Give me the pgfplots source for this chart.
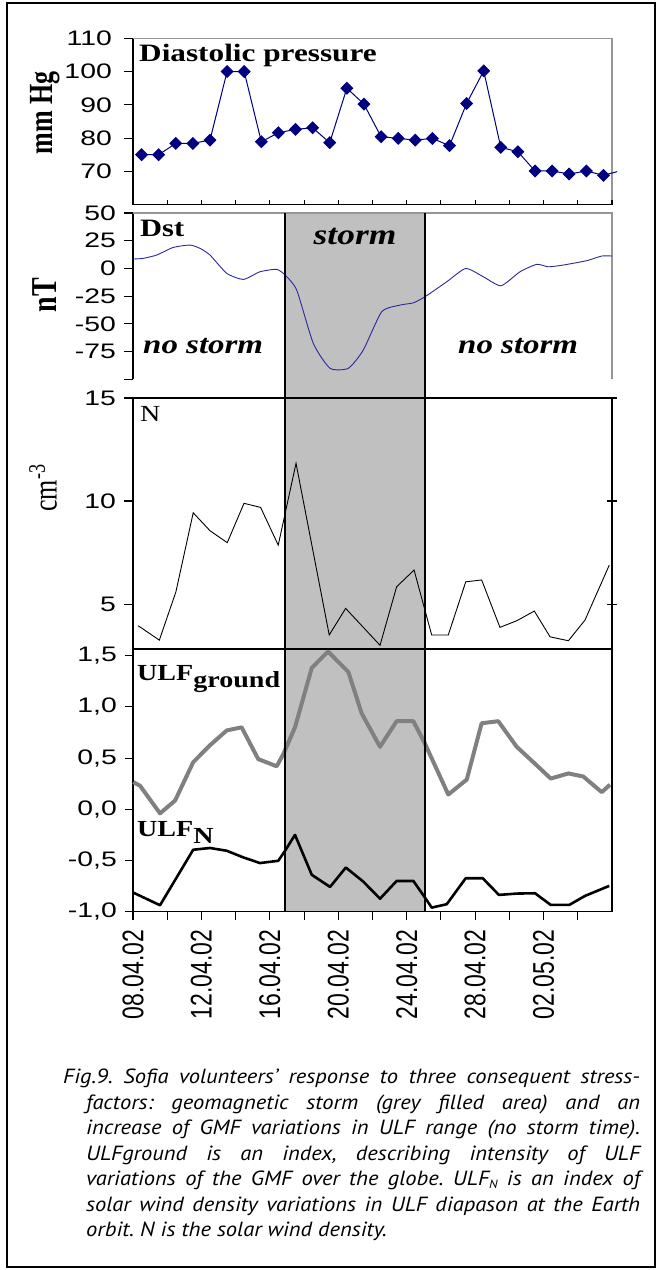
\documentclass[border=0pt]{standalone}
\usepackage{fontspec}
\usepackage{graphicx}
\usepackage{pgfplots}
\pgfplotsset{compat=1.18}
\setmainfont{Liberation Serif}
\newfontfamily\arial{Liberation Sans}
\newfontfamily\capfont{PT Sans}
\newcommand\fs[1]{\fontsize{#1}{#1}\selectfont}
\newcommand\wx[1]{\scalebox{1.22}[1]{#1}}
\newcommand\wt[1]{\scalebox{1.35}[1]{#1}}
\newcommand\wy[1]{\scalebox{1}[1.3]{#1}}
\newcommand\capline[2]{\scalebox{1.1}[1]{\makebox[#1][s]{#2}}}
\definecolor{navy}{RGB}{0,0,128}
\definecolor{dstblue}{RGB}{40,40,160}
\definecolor{stormgray}{RGB}{192,192,192}
\definecolor{ulfgray}{RGB}{128,128,128}
\definecolor{framegray}{RGB}{150,150,150}
\pgfplotsset{
  base/.style={scale only axis, width=479pt, xmin=0, xmax=28, clip=false, anchor=south west,
    axis line style={line width=1.1pt, black}, tick style={line width=1.1pt, black},
    yticklabel style={font=\arial\fs{21}, anchor=east, inner sep=0pt},
    yticklabel shift=8pt},
}
\frenchspacing
\begin{document}
\begin{tikzpicture}[x=1pt,y=1pt]
\useasboundingbox (0,0) rectangle (658,1270);
\draw[line width=1.6pt] (7,3) rectangle (655,1267);

% storm background
\begin{axis}[scale only axis, width=479pt, height=698.7pt, at={(133pt,358.3pt)}, anchor=south west,
  xmin=0, xmax=28, ymin=0, ymax=1, hide axis]
\addplot[fill=stormgray, draw=none] coordinates {(8.885,1) (17.07,1)} \closedcycle;
\end{axis}

% Panel 1: diastolic pressure
\begin{axis}[base, at={(133pt,1065.4pt)}, height=166.3pt, ymin=60, ymax=110,
  axis x line=none, axis y line*=left, ytick={70,80,90,100,110},
  yticklabels={{\wt{70}},{\wt{80}},{\wt{90}},{\wt{100}},{\wt{110}}},
  yticklabel shift=12pt,
  tick align=outside, major tick length=9pt]
\draw[framegray, line width=1.1pt] (rel axis cs:0,1) -- (rel axis cs:1,1) -- (rel axis cs:1,0);
\addplot[navy, line width=1pt] coordinates {(27.5,68.8) (28.3,69.9)};
\addplot[navy, line width=1pt, mark=square*, mark size=4.1pt, mark options={fill=navy, draw=navy, rotate=45}] coordinates {
(0.5,75)(1.5,75)(2.5,78.4)(3.5,78.4)(4.5,79.4)(5.5,100)(6.5,100)(7.5,78.9)(8.5,81.6)(9.5,82.6)
(10.5,83.1)(11.5,78.6)(12.5,95)(13.5,90.2)(14.5,80.4)(15.5,79.9)(16.5,79.4)(17.5,79.9)(18.5,77.7)
(19.5,90.4)(20.5,100.2)(21.5,77.2)(22.5,75.9)(23.5,70.1)(24.5,70.1)(25.5,69.2)(26.5,70.1)(27.5,68.8)};
\end{axis}
\begin{axis}[base, at={(133pt,1065.4pt)}, height=166.3pt, ymin=60, ymax=110,
  axis y line=none, axis x line*=bottom, xtick={0,2,...,28}, xticklabels={},
  tick align=inside, major tick length=5pt]
\end{axis}

% Panel 2: Dst
\begin{axis}[base, at={(133pt,890.6pt)}, height=166.4pt, ymin=-100, ymax=50,
  axis x line=none, axis y line*=left, ytick={-100,-75,-50,-25,0,25,50},
  yticklabels={{},{\wt{-75}},{\wt{-50}},{\wt{-25}},{\wt{0}},{\wt{25}},{\wt{50}}},
  tick align=outside, major tick length=9pt]
\draw[framegray, line width=1.1pt] (rel axis cs:0,1) -- (rel axis cs:1,1) -- (rel axis cs:1,0);
\addplot[dstblue, line width=0.9pt, smooth, tension=0.35] coordinates {
(0.02,8.5)(0.6,9.1)(1.39,12.1)(2.36,19)(3.33,21.1)(3.92,18.1)(4.5,12.1)(5.48,-4.4)(6.45,-9.9)
(7.42,-3)(8.4,-0.8)(8.89,-6)(9.57,-19.5)(10.54,-67.6)(11.52,-90)(12.59,-90)(13.46,-73.6)
(14.54,-39)(15.61,-33)(16.39,-31)(17.07,-25.5)(18.34,-12)(19.45,0)(20.48,-7.5)(21.51,-15.6)
(22.62,-3)(23.6,3.7)(24.28,1.5)(25.16,3.1)(26.52,7)(27.4,11.2)(28.02,11.2)};
\end{axis}

% Panel 3: N
\begin{axis}[base, at={(133pt,621pt)}, height=251pt, ymin=2.82, ymax=15,
  axis x line=none, axis y line*=left, ytick={5,10,15},
  yticklabels={{\wt{5}},{\wt{10}},{\wt{15}}},
  tick align=outside, major tick length=9pt]
\draw[black, line width=1.1pt] (rel axis cs:0,1) -- (rel axis cs:1.01,1);
\addplot[black, line width=0.9pt] coordinates {
(0.3,3.95)(1.54,3.25)(2.51,5.6)(3.52,9.43)(4.5,8.56)(5.51,7.98)(6.49,9.89)(7.46,9.69)(8.49,7.86)
(9.53,11.83)(11.47,3.5)(12.43,4.79)(14.44,3.0)(15.41,5.84)(16.43,6.65)(17.46,3.5)(18.43,3.5)
(19.45,6.08)(20.38,6.17)(21.45,3.87)(22.43,4.19)(23.46,4.66)(24.38,3.41)(25.45,3.22)(26.42,4.22)(27.84,6.89)};
\end{axis}
\begin{axis}[base, at={(133pt,621pt)}, height=251pt, ymin=2.82, ymax=15,
  axis x line=none, axis y line*=right, ytick={5,10}, yticklabels={},
  tick align=center, major tick length=10pt]
\end{axis}

% Panel 4: ULF
\begin{axis}[base, at={(133pt,358.3pt)}, height=262.7pt, ymin=-1, ymax=1.565,
  xtick pos=bottom, ytick pos=left, tick align=outside, major tick length=8pt,
  ytick={-1,-0.5,0,0.5,1,1.5},
  yticklabels={{\wt{-1,0}},{\wt{-0,5}},{\wt{0,0}},{\wt{0,5}},{\wt{1,0}},{\wt{1,5}}},
  xtick={0,2,...,26},
  xticklabels={{\wy{08.04.02}},{},{\wy{12.04.02}},{},{\wy{16.04.02}},{},{\wy{20.04.02}},{},
    {\wy{24.04.02}},{},{\wy{28.04.02}},{},{\wy{02.05.02}},{}},
  xticklabel style={rotate=90, anchor=east, font=\arial\fs{23}, inner sep=0pt},
  xticklabel shift=10pt]
\addplot[ulfgray, line width=4pt, line join=round] coordinates {
(0.02,0.265)(0.41,0.23)(1.58,-0.04)(2.46,0.085)(3.52,0.46)(4.5,0.625)(5.48,0.77)(6.35,0.80)
(7.32,0.49)(8.4,0.42)(8.79,0.54)(9.47,0.80)(10.45,1.38)(11.4,1.54)(12.59,1.34)(13.37,0.935)
(14.44,0.61)(15.41,0.86)(16.39,0.86)(17.07,0.64)(18.43,0.144)(19.51,0.29)(20.38,0.84)(21.35,0.86)
(22.43,0.61)(23.4,0.46)(24.42,0.30)(25.45,0.35)(26.32,0.32)(27.4,0.167)(27.88,0.24)};
\addplot[black, line width=2.6pt, line join=round] coordinates {
(0.02,-0.814)(1.58,-0.937)(3.52,-0.395)(4.5,-0.378)(5.48,-0.405)(6.45,-0.47)(7.42,-0.525)
(8.49,-0.503)(8.89,-0.405)(9.47,-0.25)(10.45,-0.64)(11.52,-0.758)(12.44,-0.569)(13.46,-0.706)
(14.44,-0.873)(15.41,-0.70)(16.39,-0.70)(17.07,-0.863)(17.46,-0.96)(18.34,-0.927)(19.45,-0.673)
(20.44,-0.673)(21.39,-0.836)(22.43,-0.823)(23.5,-0.82)(24.42,-0.934)(25.5,-0.934)(26.42,-0.846)(27.84,-0.748)};
\end{axis}

% storm boundaries
\begin{axis}[scale only axis, width=479pt, height=698.7pt, at={(133pt,358.3pt)}, anchor=south west,
  xmin=0, xmax=28, ymin=0, ymax=1, hide axis]
\addplot[black, line width=2.4pt] coordinates {(8.885,0) (8.885,1)};
\addplot[black, line width=2.4pt] coordinates {(17.07,0) (17.07,1)};
\end{axis}

% panel texts
\node[anchor=base west, inner sep=0] at (139,1208.3) {\scalebox{1.25}[1]{\bfseries\fs{25}Diastolic pressure}};
\node[anchor=base west, inner sep=0] at (140,1033.3) {\wx{\bfseries\fs{25}Dst}};
\node[anchor=base, inner sep=0] at (355,1025) {\wx{\bfseries\itshape\fs{29}storm}};
\node[anchor=base west, inner sep=0] at (143,916.7) {\wx{\bfseries\itshape\fs{27}no storm}};
\node[anchor=base west, inner sep=0] at (458,916.7) {\wx{\bfseries\itshape\fs{27}no storm}};
\node[anchor=base west, inner sep=0] at (140,848.3) {\wx{\fs{23}N}};
\node[anchor=base west, inner sep=0] at (137,589.3) {\wx{\bfseries\fs{23}ULF\raisebox{-7pt}{ground}}};
\node[anchor=base west, inner sep=0] at (137,433.3) {\wx{\bfseries\fs{23}ULF\raisebox{-7pt}{N}}};

% y axis titles
\node[rotate=90, inner sep=0] at (45,1157) {\wy{\bfseries\fs{26}mm Hg}};
\node[rotate=90, inner sep=0] at (45,975) {\wy{\bfseries\fs{28}nT}};
\node[rotate=90, inner sep=0] at (43,782) {\wy{\fs{26}cm\textsuperscript{-3}}};

% caption
\begin{scope}[every node/.style={anchor=base west, inner sep=0, font=\capfont\itshape\fs{20.5}}]
\node at (63,186) {\capline{524.5pt}{Fig.9. Sofia volunteers’ response to three consequent stress-}};
\node at (86,160.5) {\capline{503.6pt}{factors: geomagnetic storm (grey filled area) and an}};
\node at (86,135) {\capline{503.6pt}{increase of GMF variations in ULF range (no storm time).}};
\node at (86,109.5) {\capline{503.6pt}{ULFground is an index, describing intensity of ULF}};
\node at (86,84) {\capline{503.6pt}{variations of the GMF over the globe. ULF\raisebox{-3pt}{\fs{12}N} is an index of}};
\node at (86,58.5) {\capline{503.6pt}{solar wind density variations in ULF diapason at the Earth}};
\node at (86,33) {\scalebox{1.1}[1]{orbit. N is the solar wind density.}};
\end{scope}
\end{tikzpicture}
\end{document}
